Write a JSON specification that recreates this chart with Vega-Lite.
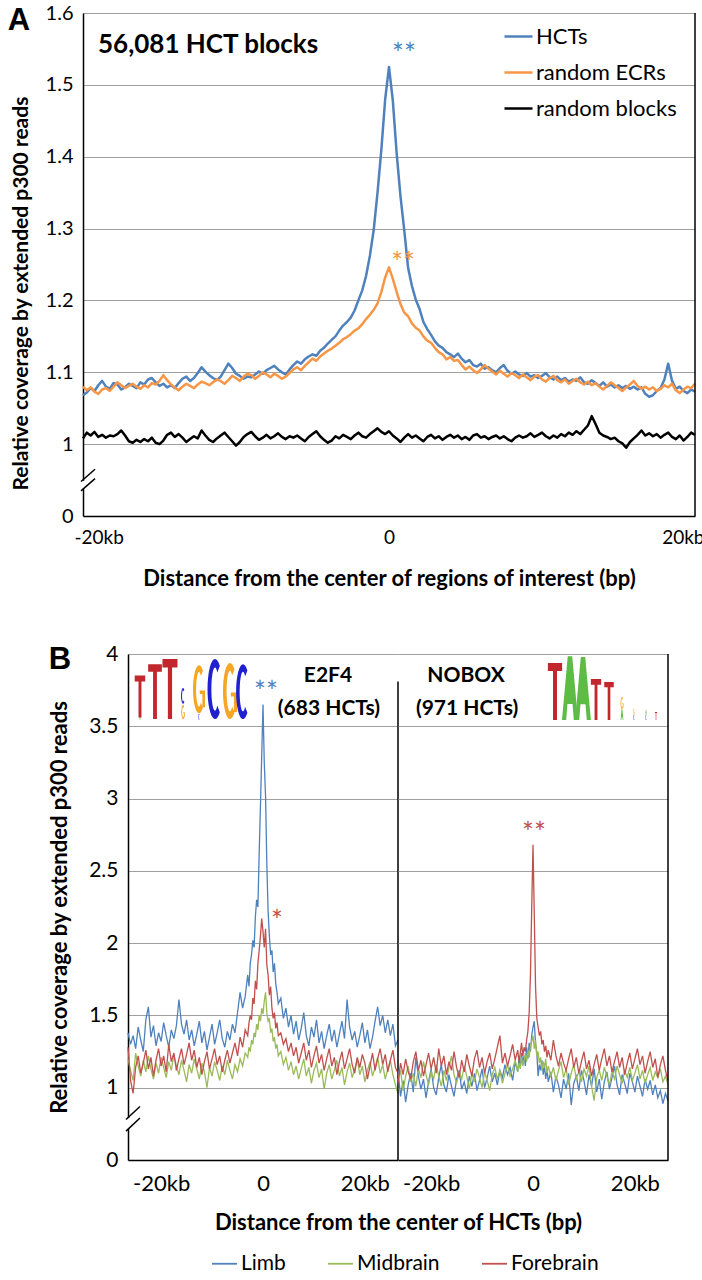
{
"$schema":"https://vega.github.io/schema/vega-lite/v6.json",
"padding":{"left":7,"top":3,"right":0,"bottom":0},
"config":{"font":"Lato","view":{"stroke":null},
 "axis":{"domainColor":"black","domainWidth":1.5,"gridColor":"#a0a0a0","gridWidth":1,"ticks":false,"labelColor":"black","titleColor":"black","labelFontSize":20,"titleFontWeight":"bold"},
 "legend":{"labelColor":"black"}},
"datasets":{
"a":[
{"s":"h","x":-20000,"y":1.068},{"s":"h","x":-19750,"y":1.072},{"s":"h","x":-19500,"y":1.078},{"s":"h","x":-19250,"y":1.074},{"s":"h","x":-19000,"y":1.082},{"s":"h","x":-18750,"y":1.088},{"s":"h","x":-18500,"y":1.080},{"s":"h","x":-18250,"y":1.077},{"s":"h","x":-18000,"y":1.085},{"s":"h","x":-17750,"y":1.083},
{"s":"h","x":-17500,"y":1.076},{"s":"h","x":-17250,"y":1.079},{"s":"h","x":-17000,"y":1.084},{"s":"h","x":-16750,"y":1.081},{"s":"h","x":-16500,"y":1.078},{"s":"h","x":-16250,"y":1.086},{"s":"h","x":-16000,"y":1.083},{"s":"h","x":-15750,"y":1.090},{"s":"h","x":-15500,"y":1.092},{"s":"h","x":-15250,"y":1.086},
{"s":"h","x":-15000,"y":1.081},{"s":"h","x":-14750,"y":1.084},{"s":"h","x":-14500,"y":1.079},{"s":"h","x":-14250,"y":1.082},{"s":"h","x":-14000,"y":1.078},{"s":"h","x":-13750,"y":1.085},{"s":"h","x":-13500,"y":1.091},{"s":"h","x":-13250,"y":1.094},{"s":"h","x":-13000,"y":1.088},{"s":"h","x":-12750,"y":1.092},
{"s":"h","x":-12500,"y":1.099},{"s":"h","x":-12250,"y":1.107},{"s":"h","x":-12000,"y":1.101},{"s":"h","x":-11750,"y":1.096},{"s":"h","x":-11500,"y":1.092},{"s":"h","x":-11250,"y":1.089},{"s":"h","x":-11000,"y":1.094},{"s":"h","x":-10750,"y":1.103},{"s":"h","x":-10500,"y":1.112},{"s":"h","x":-10250,"y":1.106},
{"s":"h","x":-10000,"y":1.098},{"s":"h","x":-9750,"y":1.095},{"s":"h","x":-9500,"y":1.091},{"s":"h","x":-9250,"y":1.094},{"s":"h","x":-9000,"y":1.093},{"s":"h","x":-8750,"y":1.097},{"s":"h","x":-8500,"y":1.101},{"s":"h","x":-8250,"y":1.098},{"s":"h","x":-8000,"y":1.103},{"s":"h","x":-7750,"y":1.106},
{"s":"h","x":-7500,"y":1.109},{"s":"h","x":-7250,"y":1.104},{"s":"h","x":-7000,"y":1.100},{"s":"h","x":-6750,"y":1.097},{"s":"h","x":-6500,"y":1.104},{"s":"h","x":-6250,"y":1.110},{"s":"h","x":-6000,"y":1.115},{"s":"h","x":-5750,"y":1.112},{"s":"h","x":-5500,"y":1.118},{"s":"h","x":-5250,"y":1.122},
{"s":"h","x":-5000,"y":1.125},{"s":"h","x":-4750,"y":1.123},{"s":"h","x":-4500,"y":1.130},{"s":"h","x":-4250,"y":1.134},{"s":"h","x":-4000,"y":1.140},{"s":"h","x":-3750,"y":1.145},{"s":"h","x":-3500,"y":1.150},{"s":"h","x":-3250,"y":1.158},{"s":"h","x":-3000,"y":1.165},{"s":"h","x":-2750,"y":1.170},
{"s":"h","x":-2500,"y":1.176},{"s":"h","x":-2250,"y":1.186},{"s":"h","x":-2000,"y":1.200},{"s":"h","x":-1750,"y":1.214},{"s":"h","x":-1500,"y":1.234},{"s":"h","x":-1250,"y":1.262},{"s":"h","x":-1000,"y":1.298},{"s":"h","x":-750,"y":1.350},{"s":"h","x":-500,"y":1.410},{"s":"h","x":-250,"y":1.480},
{"s":"h","x":0,"y":1.525},{"s":"h","x":250,"y":1.478},{"s":"h","x":500,"y":1.405},{"s":"h","x":750,"y":1.345},{"s":"h","x":1000,"y":1.297},{"s":"h","x":1250,"y":1.245},{"s":"h","x":1500,"y":1.220},{"s":"h","x":1750,"y":1.201},{"s":"h","x":2000,"y":1.188},{"s":"h","x":2250,"y":1.170},
{"s":"h","x":2500,"y":1.160},{"s":"h","x":2750,"y":1.152},{"s":"h","x":3000,"y":1.143},{"s":"h","x":3250,"y":1.137},{"s":"h","x":3500,"y":1.134},{"s":"h","x":3750,"y":1.128},{"s":"h","x":4000,"y":1.125},{"s":"h","x":4250,"y":1.121},{"s":"h","x":4500,"y":1.126},{"s":"h","x":4750,"y":1.119},
{"s":"h","x":5000,"y":1.114},{"s":"h","x":5250,"y":1.117},{"s":"h","x":5500,"y":1.110},{"s":"h","x":5750,"y":1.108},{"s":"h","x":6000,"y":1.112},{"s":"h","x":6250,"y":1.105},{"s":"h","x":6500,"y":1.107},{"s":"h","x":6750,"y":1.103},{"s":"h","x":7000,"y":1.100},{"s":"h","x":7250,"y":1.106},
{"s":"h","x":7500,"y":1.110},{"s":"h","x":7750,"y":1.102},{"s":"h","x":8000,"y":1.098},{"s":"h","x":8250,"y":1.101},{"s":"h","x":8500,"y":1.097},{"s":"h","x":8750,"y":1.095},{"s":"h","x":9000,"y":1.099},{"s":"h","x":9250,"y":1.094},{"s":"h","x":9500,"y":1.096},{"s":"h","x":9750,"y":1.092},
{"s":"h","x":10000,"y":1.095},{"s":"h","x":10250,"y":1.099},{"s":"h","x":10500,"y":1.093},{"s":"h","x":10750,"y":1.090},{"s":"h","x":11000,"y":1.094},{"s":"h","x":11250,"y":1.089},{"s":"h","x":11500,"y":1.092},{"s":"h","x":11750,"y":1.087},{"s":"h","x":12000,"y":1.090},{"s":"h","x":12250,"y":1.088},
{"s":"h","x":12500,"y":1.093},{"s":"h","x":12750,"y":1.086},{"s":"h","x":13000,"y":1.084},{"s":"h","x":13250,"y":1.089},{"s":"h","x":13500,"y":1.085},{"s":"h","x":13750,"y":1.081},{"s":"h","x":14000,"y":1.086},{"s":"h","x":14250,"y":1.080},{"s":"h","x":14500,"y":1.083},{"s":"h","x":14750,"y":1.079},
{"s":"h","x":15000,"y":1.082},{"s":"h","x":15250,"y":1.078},{"s":"h","x":15500,"y":1.081},{"s":"h","x":15750,"y":1.077},{"s":"h","x":16000,"y":1.080},{"s":"h","x":16250,"y":1.076},{"s":"h","x":16500,"y":1.079},{"s":"h","x":16750,"y":1.070},{"s":"h","x":17000,"y":1.066},{"s":"h","x":17250,"y":1.068},
{"s":"h","x":17500,"y":1.074},{"s":"h","x":17750,"y":1.078},{"s":"h","x":18000,"y":1.090},{"s":"h","x":18250,"y":1.112},{"s":"h","x":18500,"y":1.088},{"s":"h","x":18750,"y":1.077},{"s":"h","x":19000,"y":1.080},{"s":"h","x":19250,"y":1.074},{"s":"h","x":19500,"y":1.071},{"s":"h","x":19750,"y":1.076},
{"s":"h","x":20000,"y":1.073},
{"s":"e","x":-20000,"y":1.080},{"s":"e","x":-19750,"y":1.075},{"s":"e","x":-19500,"y":1.079},{"s":"e","x":-19250,"y":1.073},{"s":"e","x":-19000,"y":1.070},{"s":"e","x":-18750,"y":1.076},{"s":"e","x":-18500,"y":1.078},{"s":"e","x":-18250,"y":1.074},{"s":"e","x":-18000,"y":1.080},{"s":"e","x":-17750,"y":1.086},
{"s":"e","x":-17500,"y":1.082},{"s":"e","x":-17250,"y":1.078},{"s":"e","x":-17000,"y":1.081},{"s":"e","x":-16750,"y":1.084},{"s":"e","x":-16500,"y":1.080},{"s":"e","x":-16250,"y":1.077},{"s":"e","x":-16000,"y":1.082},{"s":"e","x":-15750,"y":1.079},{"s":"e","x":-15500,"y":1.085},{"s":"e","x":-15250,"y":1.083},
{"s":"e","x":-15000,"y":1.088},{"s":"e","x":-14750,"y":1.096},{"s":"e","x":-14500,"y":1.089},{"s":"e","x":-14250,"y":1.083},{"s":"e","x":-14000,"y":1.079},{"s":"e","x":-13750,"y":1.075},{"s":"e","x":-13500,"y":1.080},{"s":"e","x":-13250,"y":1.084},{"s":"e","x":-13000,"y":1.081},{"s":"e","x":-12750,"y":1.078},
{"s":"e","x":-12500,"y":1.083},{"s":"e","x":-12250,"y":1.087},{"s":"e","x":-12000,"y":1.085},{"s":"e","x":-11750,"y":1.082},{"s":"e","x":-11500,"y":1.086},{"s":"e","x":-11250,"y":1.090},{"s":"e","x":-11000,"y":1.088},{"s":"e","x":-10750,"y":1.084},{"s":"e","x":-10500,"y":1.089},{"s":"e","x":-10250,"y":1.095},
{"s":"e","x":-10000,"y":1.092},{"s":"e","x":-9750,"y":1.088},{"s":"e","x":-9500,"y":1.094},{"s":"e","x":-9250,"y":1.098},{"s":"e","x":-9000,"y":1.096},{"s":"e","x":-8750,"y":1.091},{"s":"e","x":-8500,"y":1.095},{"s":"e","x":-8250,"y":1.100},{"s":"e","x":-8000,"y":1.097},{"s":"e","x":-7750,"y":1.093},
{"s":"e","x":-7500,"y":1.098},{"s":"e","x":-7250,"y":1.095},{"s":"e","x":-7000,"y":1.091},{"s":"e","x":-6750,"y":1.094},{"s":"e","x":-6500,"y":1.099},{"s":"e","x":-6250,"y":1.104},{"s":"e","x":-6000,"y":1.107},{"s":"e","x":-5750,"y":1.103},{"s":"e","x":-5500,"y":1.109},{"s":"e","x":-5250,"y":1.114},
{"s":"e","x":-5000,"y":1.119},{"s":"e","x":-4750,"y":1.116},{"s":"e","x":-4500,"y":1.122},{"s":"e","x":-4250,"y":1.126},{"s":"e","x":-4000,"y":1.130},{"s":"e","x":-3750,"y":1.133},{"s":"e","x":-3500,"y":1.137},{"s":"e","x":-3250,"y":1.141},{"s":"e","x":-3000,"y":1.146},{"s":"e","x":-2750,"y":1.149},
{"s":"e","x":-2500,"y":1.153},{"s":"e","x":-2250,"y":1.158},{"s":"e","x":-2000,"y":1.161},{"s":"e","x":-1750,"y":1.167},{"s":"e","x":-1500,"y":1.174},{"s":"e","x":-1250,"y":1.180},{"s":"e","x":-1000,"y":1.187},{"s":"e","x":-750,"y":1.196},{"s":"e","x":-500,"y":1.212},{"s":"e","x":-250,"y":1.232},
{"s":"e","x":0,"y":1.246},{"s":"e","x":250,"y":1.230},{"s":"e","x":500,"y":1.212},{"s":"e","x":750,"y":1.195},{"s":"e","x":1000,"y":1.183},{"s":"e","x":1250,"y":1.178},{"s":"e","x":1500,"y":1.168},{"s":"e","x":1750,"y":1.162},{"s":"e","x":2000,"y":1.158},{"s":"e","x":2250,"y":1.150},
{"s":"e","x":2500,"y":1.144},{"s":"e","x":2750,"y":1.141},{"s":"e","x":3000,"y":1.134},{"s":"e","x":3250,"y":1.128},{"s":"e","x":3500,"y":1.125},{"s":"e","x":3750,"y":1.118},{"s":"e","x":4000,"y":1.121},{"s":"e","x":4250,"y":1.116},{"s":"e","x":4500,"y":1.117},{"s":"e","x":4750,"y":1.110},
{"s":"e","x":5000,"y":1.104},{"s":"e","x":5250,"y":1.108},{"s":"e","x":5500,"y":1.103},{"s":"e","x":5750,"y":1.099},{"s":"e","x":6000,"y":1.104},{"s":"e","x":6250,"y":1.110},{"s":"e","x":6500,"y":1.105},{"s":"e","x":6750,"y":1.101},{"s":"e","x":7000,"y":1.097},{"s":"e","x":7250,"y":1.102},
{"s":"e","x":7500,"y":1.098},{"s":"e","x":7750,"y":1.094},{"s":"e","x":8000,"y":1.099},{"s":"e","x":8250,"y":1.096},{"s":"e","x":8500,"y":1.092},{"s":"e","x":8750,"y":1.097},{"s":"e","x":9000,"y":1.093},{"s":"e","x":9250,"y":1.089},{"s":"e","x":9500,"y":1.094},{"s":"e","x":9750,"y":1.096},
{"s":"e","x":10000,"y":1.090},{"s":"e","x":10250,"y":1.087},{"s":"e","x":10500,"y":1.092},{"s":"e","x":10750,"y":1.095},{"s":"e","x":11000,"y":1.089},{"s":"e","x":11250,"y":1.086},{"s":"e","x":11500,"y":1.090},{"s":"e","x":11750,"y":1.084},{"s":"e","x":12000,"y":1.088},{"s":"e","x":12250,"y":1.091},
{"s":"e","x":12500,"y":1.086},{"s":"e","x":12750,"y":1.083},{"s":"e","x":13000,"y":1.087},{"s":"e","x":13250,"y":1.082},{"s":"e","x":13500,"y":1.085},{"s":"e","x":13750,"y":1.080},{"s":"e","x":14000,"y":1.076},{"s":"e","x":14250,"y":1.081},{"s":"e","x":14500,"y":1.086},{"s":"e","x":14750,"y":1.082},
{"s":"e","x":15000,"y":1.078},{"s":"e","x":15250,"y":1.074},{"s":"e","x":15500,"y":1.079},{"s":"e","x":15750,"y":1.083},{"s":"e","x":16000,"y":1.088},{"s":"e","x":16250,"y":1.081},{"s":"e","x":16500,"y":1.077},{"s":"e","x":16750,"y":1.080},{"s":"e","x":17000,"y":1.076},{"s":"e","x":17250,"y":1.079},
{"s":"e","x":17500,"y":1.074},{"s":"e","x":17750,"y":1.077},{"s":"e","x":18000,"y":1.082},{"s":"e","x":18250,"y":1.079},{"s":"e","x":18500,"y":1.084},{"s":"e","x":18750,"y":1.075},{"s":"e","x":19000,"y":1.071},{"s":"e","x":19250,"y":1.076},{"s":"e","x":19500,"y":1.080},{"s":"e","x":19750,"y":1.078},
{"s":"e","x":20000,"y":1.084},
{"s":"b","x":-20000,"y":1.008},{"s":"b","x":-19750,"y":1.016},{"s":"b","x":-19500,"y":1.012},{"s":"b","x":-19250,"y":1.017},{"s":"b","x":-19000,"y":1.010},{"s":"b","x":-18750,"y":1.013},{"s":"b","x":-18500,"y":1.009},{"s":"b","x":-18250,"y":1.012},{"s":"b","x":-18000,"y":1.011},{"s":"b","x":-17750,"y":1.014},
{"s":"b","x":-17500,"y":1.019},{"s":"b","x":-17250,"y":1.012},{"s":"b","x":-17000,"y":1.004},{"s":"b","x":-16750,"y":1.002},{"s":"b","x":-16500,"y":1.006},{"s":"b","x":-16250,"y":1.003},{"s":"b","x":-16000,"y":1.007},{"s":"b","x":-15750,"y":1.004},{"s":"b","x":-15500,"y":1.009},{"s":"b","x":-15250,"y":1.002},
{"s":"b","x":-15000,"y":1.000},{"s":"b","x":-14750,"y":1.005},{"s":"b","x":-14500,"y":1.013},{"s":"b","x":-14250,"y":1.016},{"s":"b","x":-14000,"y":1.010},{"s":"b","x":-13750,"y":1.014},{"s":"b","x":-13500,"y":1.009},{"s":"b","x":-13250,"y":1.003},{"s":"b","x":-13000,"y":1.007},{"s":"b","x":-12750,"y":1.011},
{"s":"b","x":-12500,"y":1.008},{"s":"b","x":-12250,"y":1.019},{"s":"b","x":-12000,"y":1.012},{"s":"b","x":-11750,"y":1.006},{"s":"b","x":-11500,"y":1.003},{"s":"b","x":-11250,"y":1.008},{"s":"b","x":-11000,"y":1.012},{"s":"b","x":-10750,"y":1.016},{"s":"b","x":-10500,"y":1.010},{"s":"b","x":-10250,"y":1.004},
{"s":"b","x":-10000,"y":0.998},{"s":"b","x":-9750,"y":1.003},{"s":"b","x":-9500,"y":1.010},{"s":"b","x":-9250,"y":1.014},{"s":"b","x":-9000,"y":1.017},{"s":"b","x":-8750,"y":1.011},{"s":"b","x":-8500,"y":1.006},{"s":"b","x":-8250,"y":1.009},{"s":"b","x":-8000,"y":1.013},{"s":"b","x":-7750,"y":1.008},
{"s":"b","x":-7500,"y":1.011},{"s":"b","x":-7250,"y":1.015},{"s":"b","x":-7000,"y":1.010},{"s":"b","x":-6750,"y":1.007},{"s":"b","x":-6500,"y":1.011},{"s":"b","x":-6250,"y":1.009},{"s":"b","x":-6000,"y":1.012},{"s":"b","x":-5750,"y":1.008},{"s":"b","x":-5500,"y":1.004},{"s":"b","x":-5250,"y":1.010},
{"s":"b","x":-5000,"y":1.014},{"s":"b","x":-4750,"y":1.018},{"s":"b","x":-4500,"y":1.011},{"s":"b","x":-4250,"y":1.006},{"s":"b","x":-4000,"y":1.002},{"s":"b","x":-3750,"y":1.005},{"s":"b","x":-3500,"y":1.011},{"s":"b","x":-3250,"y":1.008},{"s":"b","x":-3000,"y":1.013},{"s":"b","x":-2750,"y":1.010},
{"s":"b","x":-2500,"y":1.007},{"s":"b","x":-2250,"y":1.012},{"s":"b","x":-2000,"y":1.016},{"s":"b","x":-1750,"y":1.011},{"s":"b","x":-1500,"y":1.009},{"s":"b","x":-1250,"y":1.014},{"s":"b","x":-1000,"y":1.018},{"s":"b","x":-750,"y":1.022},{"s":"b","x":-500,"y":1.017},{"s":"b","x":-250,"y":1.014},
{"s":"b","x":0,"y":1.018},{"s":"b","x":250,"y":1.012},{"s":"b","x":500,"y":1.008},{"s":"b","x":750,"y":1.003},{"s":"b","x":1000,"y":1.009},{"s":"b","x":1250,"y":1.014},{"s":"b","x":1500,"y":1.009},{"s":"b","x":1750,"y":1.012},{"s":"b","x":2000,"y":1.008},{"s":"b","x":2250,"y":1.004},
{"s":"b","x":2500,"y":1.010},{"s":"b","x":2750,"y":1.013},{"s":"b","x":3000,"y":1.008},{"s":"b","x":3250,"y":1.011},{"s":"b","x":3500,"y":1.006},{"s":"b","x":3750,"y":1.010},{"s":"b","x":4000,"y":1.013},{"s":"b","x":4250,"y":1.009},{"s":"b","x":4500,"y":1.012},{"s":"b","x":4750,"y":1.007},
{"s":"b","x":5000,"y":1.010},{"s":"b","x":5250,"y":1.006},{"s":"b","x":5500,"y":1.012},{"s":"b","x":5750,"y":1.014},{"s":"b","x":6000,"y":1.009},{"s":"b","x":6250,"y":1.011},{"s":"b","x":6500,"y":1.007},{"s":"b","x":6750,"y":1.010},{"s":"b","x":7000,"y":1.012},{"s":"b","x":7250,"y":1.008},
{"s":"b","x":7500,"y":1.011},{"s":"b","x":7750,"y":1.007},{"s":"b","x":8000,"y":1.004},{"s":"b","x":8250,"y":1.009},{"s":"b","x":8500,"y":1.012},{"s":"b","x":8750,"y":1.009},{"s":"b","x":9000,"y":1.011},{"s":"b","x":9250,"y":1.015},{"s":"b","x":9500,"y":1.010},{"s":"b","x":9750,"y":1.013},
{"s":"b","x":10000,"y":1.016},{"s":"b","x":10250,"y":1.011},{"s":"b","x":10500,"y":1.008},{"s":"b","x":10750,"y":1.012},{"s":"b","x":11000,"y":1.009},{"s":"b","x":11250,"y":1.014},{"s":"b","x":11500,"y":1.011},{"s":"b","x":11750,"y":1.016},{"s":"b","x":12000,"y":1.013},{"s":"b","x":12250,"y":1.018},
{"s":"b","x":12500,"y":1.014},{"s":"b","x":12750,"y":1.020},{"s":"b","x":13000,"y":1.026},{"s":"b","x":13250,"y":1.039},{"s":"b","x":13500,"y":1.028},{"s":"b","x":13750,"y":1.016},{"s":"b","x":14000,"y":1.012},{"s":"b","x":14250,"y":1.010},{"s":"b","x":14500,"y":1.007},{"s":"b","x":14750,"y":1.009},
{"s":"b","x":15000,"y":1.004},{"s":"b","x":15250,"y":1.001},{"s":"b","x":15500,"y":0.995},{"s":"b","x":15750,"y":1.003},{"s":"b","x":16000,"y":1.008},{"s":"b","x":16250,"y":1.013},{"s":"b","x":16500,"y":1.019},{"s":"b","x":16750,"y":1.012},{"s":"b","x":17000,"y":1.015},{"s":"b","x":17250,"y":1.011},
{"s":"b","x":17500,"y":1.014},{"s":"b","x":17750,"y":1.009},{"s":"b","x":18000,"y":1.013},{"s":"b","x":18250,"y":1.016},{"s":"b","x":18500,"y":1.010},{"s":"b","x":18750,"y":1.007},{"s":"b","x":19000,"y":1.012},{"s":"b","x":19250,"y":1.005},{"s":"b","x":19500,"y":1.010},{"s":"b","x":19750,"y":1.016},
{"s":"b","x":20000,"y":1.013}
],
"e":[
{"s":"L","x":-26500,"y":1.38},{"s":"L","x":-26000,"y":1.30},{"s":"L","x":-25500,"y":1.36},{"s":"L","x":-25000,"y":1.27},{"s":"L","x":-24500,"y":1.42},{"s":"L","x":-24000,"y":1.33},{"s":"L","x":-23500,"y":1.25},{"s":"L","x":-23000,"y":1.47},{"s":"L","x":-22500,"y":1.56},{"s":"L","x":-22000,"y":1.35},
{"s":"L","x":-21500,"y":1.43},{"s":"L","x":-21000,"y":1.29},{"s":"L","x":-20500,"y":1.38},{"s":"L","x":-20000,"y":1.32},{"s":"L","x":-19500,"y":1.45},{"s":"L","x":-19000,"y":1.36},{"s":"L","x":-18500,"y":1.28},{"s":"L","x":-18000,"y":1.40},{"s":"L","x":-17500,"y":1.34},{"s":"L","x":-17000,"y":1.43},
{"s":"L","x":-16500,"y":1.61},{"s":"L","x":-16000,"y":1.44},{"s":"L","x":-15500,"y":1.37},{"s":"L","x":-15000,"y":1.47},{"s":"L","x":-14500,"y":1.33},{"s":"L","x":-14000,"y":1.40},{"s":"L","x":-13500,"y":1.29},{"s":"L","x":-13000,"y":1.37},{"s":"L","x":-12500,"y":1.46},{"s":"L","x":-12000,"y":1.31},
{"s":"L","x":-11500,"y":1.39},{"s":"L","x":-11000,"y":1.26},{"s":"L","x":-10500,"y":1.35},{"s":"L","x":-10000,"y":1.44},{"s":"L","x":-9500,"y":1.30},{"s":"L","x":-9000,"y":1.38},{"s":"L","x":-8500,"y":1.47},{"s":"L","x":-8000,"y":1.34},{"s":"L","x":-7500,"y":1.28},{"s":"L","x":-7000,"y":1.39},
{"s":"L","x":-6500,"y":1.33},{"s":"L","x":-6000,"y":1.44},{"s":"L","x":-5500,"y":1.38},{"s":"L","x":-5000,"y":1.52},{"s":"L","x":-4500,"y":1.66},{"s":"L","x":-4000,"y":1.55},{"s":"L","x":-3500,"y":1.63},
{"s":"L","x":-3000,"y":1.78},{"s":"L","x":-2750,"y":1.70},{"s":"L","x":-2500,"y":1.86},{"s":"L","x":-2250,"y":1.92},{"s":"L","x":-2000,"y":2.02},{"s":"L","x":-1750,"y":1.97},{"s":"L","x":-1500,"y":2.18},{"s":"L","x":-1250,"y":2.30},{"s":"L","x":-1000,"y":2.25},{"s":"L","x":-750,"y":2.62},
{"s":"L","x":-500,"y":2.95},{"s":"L","x":-250,"y":3.30},{"s":"L","x":0,"y":3.65},{"s":"L","x":250,"y":3.25},{"s":"L","x":500,"y":3.02},{"s":"L","x":750,"y":2.55},{"s":"L","x":1000,"y":2.22},{"s":"L","x":1250,"y":2.05},{"s":"L","x":1500,"y":1.92},{"s":"L","x":1750,"y":1.95},
{"s":"L","x":2000,"y":1.80},{"s":"L","x":2250,"y":1.86},{"s":"L","x":2500,"y":1.72},{"s":"L","x":2750,"y":1.66},{"s":"L","x":3000,"y":1.58},
{"s":"L","x":3500,"y":1.62},{"s":"L","x":4000,"y":1.48},{"s":"L","x":4500,"y":1.55},{"s":"L","x":5000,"y":1.42},{"s":"L","x":5500,"y":1.50},{"s":"L","x":6000,"y":1.37},{"s":"L","x":6500,"y":1.46},{"s":"L","x":7000,"y":1.33},{"s":"L","x":7500,"y":1.41},{"s":"L","x":8000,"y":1.52},
{"s":"L","x":8500,"y":1.36},{"s":"L","x":9000,"y":1.29},{"s":"L","x":9500,"y":1.42},{"s":"L","x":10000,"y":1.35},{"s":"L","x":10500,"y":1.47},{"s":"L","x":11000,"y":1.31},{"s":"L","x":11500,"y":1.39},{"s":"L","x":12000,"y":1.27},{"s":"L","x":12500,"y":1.36},{"s":"L","x":13000,"y":1.44},
{"s":"L","x":13500,"y":1.32},{"s":"L","x":14000,"y":1.40},{"s":"L","x":14500,"y":1.28},{"s":"L","x":15000,"y":1.37},{"s":"L","x":15500,"y":1.46},{"s":"L","x":16000,"y":1.34},{"s":"L","x":16500,"y":1.61},{"s":"L","x":17000,"y":1.42},{"s":"L","x":17500,"y":1.33},{"s":"L","x":18000,"y":1.39},
{"s":"L","x":18500,"y":1.28},{"s":"L","x":19000,"y":1.36},{"s":"L","x":19500,"y":1.45},{"s":"L","x":20000,"y":1.31},{"s":"L","x":20500,"y":1.40},{"s":"L","x":21000,"y":1.27},{"s":"L","x":21500,"y":1.35},{"s":"L","x":22000,"y":1.46},{"s":"L","x":22500,"y":1.56},{"s":"L","x":23000,"y":1.43},
{"s":"L","x":23500,"y":1.50},{"s":"L","x":24000,"y":1.38},{"s":"L","x":24500,"y":1.47},{"s":"L","x":25000,"y":1.36},{"s":"L","x":25500,"y":1.44},{"s":"L","x":26000,"y":1.29},{"s":"L","x":26500,"y":1.33},
{"s":"M","x":-26500,"y":1.20},{"s":"M","x":-26000,"y":1.12},{"s":"M","x":-25500,"y":1.05},{"s":"M","x":-25000,"y":1.24},{"s":"M","x":-24500,"y":1.15},{"s":"M","x":-24000,"y":1.08},{"s":"M","x":-23500,"y":1.19},{"s":"M","x":-23000,"y":1.11},{"s":"M","x":-22500,"y":1.22},{"s":"M","x":-22000,"y":1.13},
{"s":"M","x":-21500,"y":1.06},{"s":"M","x":-21000,"y":1.17},{"s":"M","x":-20500,"y":1.10},{"s":"M","x":-20000,"y":1.21},{"s":"M","x":-19500,"y":1.14},{"s":"M","x":-19000,"y":1.07},{"s":"M","x":-18500,"y":1.18},{"s":"M","x":-18000,"y":1.12},{"s":"M","x":-17500,"y":1.23},{"s":"M","x":-17000,"y":1.15},
{"s":"M","x":-16500,"y":1.09},{"s":"M","x":-16000,"y":1.19},{"s":"M","x":-15500,"y":1.12},{"s":"M","x":-15000,"y":1.04},{"s":"M","x":-14500,"y":1.16},{"s":"M","x":-14000,"y":1.10},{"s":"M","x":-13500,"y":1.20},{"s":"M","x":-13000,"y":1.13},{"s":"M","x":-12500,"y":1.06},{"s":"M","x":-12000,"y":1.17},
{"s":"M","x":-11500,"y":1.11},{"s":"M","x":-11000,"y":1.00},{"s":"M","x":-10500,"y":1.14},{"s":"M","x":-10000,"y":1.08},{"s":"M","x":-9500,"y":1.18},{"s":"M","x":-9000,"y":1.12},{"s":"M","x":-8500,"y":1.05},{"s":"M","x":-8000,"y":1.15},{"s":"M","x":-7500,"y":1.09},{"s":"M","x":-7000,"y":1.19},
{"s":"M","x":-6500,"y":1.12},{"s":"M","x":-6000,"y":1.06},{"s":"M","x":-5500,"y":1.16},{"s":"M","x":-5000,"y":1.11},{"s":"M","x":-4500,"y":1.20},{"s":"M","x":-4000,"y":1.15},{"s":"M","x":-3500,"y":1.24},
{"s":"M","x":-3000,"y":1.21},{"s":"M","x":-2750,"y":1.28},{"s":"M","x":-2500,"y":1.25},{"s":"M","x":-2250,"y":1.33},{"s":"M","x":-2000,"y":1.30},{"s":"M","x":-1750,"y":1.38},{"s":"M","x":-1500,"y":1.35},{"s":"M","x":-1250,"y":1.44},{"s":"M","x":-1000,"y":1.40},{"s":"M","x":-750,"y":1.50},
{"s":"M","x":-500,"y":1.46},{"s":"M","x":-250,"y":1.55},{"s":"M","x":0,"y":1.51},{"s":"M","x":250,"y":1.60},{"s":"M","x":500,"y":1.66},{"s":"M","x":750,"y":1.52},{"s":"M","x":1000,"y":1.46},{"s":"M","x":1250,"y":1.48},{"s":"M","x":1500,"y":1.38},{"s":"M","x":1750,"y":1.41},
{"s":"M","x":2000,"y":1.32},{"s":"M","x":2250,"y":1.35},{"s":"M","x":2500,"y":1.27},{"s":"M","x":2750,"y":1.30},{"s":"M","x":3000,"y":1.22},
{"s":"M","x":3500,"y":1.25},{"s":"M","x":4000,"y":1.16},{"s":"M","x":4500,"y":1.21},{"s":"M","x":5000,"y":1.12},{"s":"M","x":5500,"y":1.18},{"s":"M","x":6000,"y":1.09},{"s":"M","x":6500,"y":1.15},{"s":"M","x":7000,"y":1.06},{"s":"M","x":7500,"y":1.13},{"s":"M","x":8000,"y":1.20},
{"s":"M","x":8500,"y":1.08},{"s":"M","x":9000,"y":1.14},{"s":"M","x":9500,"y":1.03},{"s":"M","x":10000,"y":1.12},{"s":"M","x":10500,"y":1.17},{"s":"M","x":11000,"y":1.07},{"s":"M","x":11500,"y":1.13},{"s":"M","x":12000,"y":0.99},{"s":"M","x":12500,"y":1.10},{"s":"M","x":13000,"y":1.16},
{"s":"M","x":13500,"y":1.06},{"s":"M","x":14000,"y":1.12},{"s":"M","x":14500,"y":1.19},{"s":"M","x":15000,"y":1.08},{"s":"M","x":15500,"y":1.14},{"s":"M","x":16000,"y":1.02},{"s":"M","x":16500,"y":1.11},{"s":"M","x":17000,"y":1.17},{"s":"M","x":17500,"y":1.07},{"s":"M","x":18000,"y":1.13},
{"s":"M","x":18500,"y":1.20},{"s":"M","x":19000,"y":1.09},{"s":"M","x":19500,"y":1.15},{"s":"M","x":20000,"y":1.04},{"s":"M","x":20500,"y":1.12},{"s":"M","x":21000,"y":1.18},{"s":"M","x":21500,"y":1.08},{"s":"M","x":22000,"y":1.14},{"s":"M","x":22500,"y":1.21},{"s":"M","x":23000,"y":1.10},
{"s":"M","x":23500,"y":1.16},{"s":"M","x":24000,"y":1.06},{"s":"M","x":24500,"y":1.13},{"s":"M","x":25000,"y":1.19},{"s":"M","x":25500,"y":1.09},{"s":"M","x":26000,"y":1.02},{"s":"M","x":26500,"y":0.96},
{"s":"F","x":-26500,"y":1.28},{"s":"F","x":-26000,"y":1.05},{"s":"F","x":-25500,"y":0.96},{"s":"F","x":-25000,"y":1.14},{"s":"F","x":-24500,"y":1.22},{"s":"F","x":-24000,"y":1.10},{"s":"F","x":-23500,"y":1.17},{"s":"F","x":-23000,"y":1.26},{"s":"F","x":-22500,"y":1.13},{"s":"F","x":-22000,"y":1.21},
{"s":"F","x":-21500,"y":1.08},{"s":"F","x":-21000,"y":1.19},{"s":"F","x":-20500,"y":1.27},{"s":"F","x":-20000,"y":1.15},{"s":"F","x":-19500,"y":1.22},{"s":"F","x":-19000,"y":1.11},{"s":"F","x":-18500,"y":1.30},{"s":"F","x":-18000,"y":1.18},{"s":"F","x":-17500,"y":1.24},{"s":"F","x":-17000,"y":1.12},
{"s":"F","x":-16500,"y":1.20},{"s":"F","x":-16000,"y":1.27},{"s":"F","x":-15500,"y":1.16},{"s":"F","x":-15000,"y":1.23},{"s":"F","x":-14500,"y":1.31},{"s":"F","x":-14000,"y":1.19},{"s":"F","x":-13500,"y":1.26},{"s":"F","x":-13000,"y":1.14},{"s":"F","x":-12500,"y":1.21},{"s":"F","x":-12000,"y":1.09},
{"s":"F","x":-11500,"y":1.18},{"s":"F","x":-11000,"y":1.25},{"s":"F","x":-10500,"y":1.13},{"s":"F","x":-10000,"y":1.20},{"s":"F","x":-9500,"y":1.27},{"s":"F","x":-9000,"y":1.16},{"s":"F","x":-8500,"y":1.22},{"s":"F","x":-8000,"y":1.11},{"s":"F","x":-7500,"y":1.19},{"s":"F","x":-7000,"y":1.26},
{"s":"F","x":-6500,"y":1.17},{"s":"F","x":-6000,"y":1.24},{"s":"F","x":-5500,"y":1.31},{"s":"F","x":-5000,"y":1.22},{"s":"F","x":-4500,"y":1.35},{"s":"F","x":-4000,"y":1.28},{"s":"F","x":-3500,"y":1.40},
{"s":"F","x":-3000,"y":1.36},{"s":"F","x":-2750,"y":1.45},{"s":"F","x":-2500,"y":1.50},{"s":"F","x":-2250,"y":1.47},{"s":"F","x":-2000,"y":1.62},{"s":"F","x":-1750,"y":1.58},{"s":"F","x":-1500,"y":1.74},{"s":"F","x":-1250,"y":1.68},{"s":"F","x":-1000,"y":1.86},{"s":"F","x":-750,"y":1.95},
{"s":"F","x":-500,"y":2.05},{"s":"F","x":-250,"y":2.17},{"s":"F","x":0,"y":2.08},{"s":"F","x":250,"y":1.97},{"s":"F","x":500,"y":2.10},{"s":"F","x":750,"y":1.85},{"s":"F","x":1000,"y":1.78},{"s":"F","x":1250,"y":1.64},{"s":"F","x":1500,"y":1.70},{"s":"F","x":1750,"y":1.55},
{"s":"F","x":2000,"y":1.48},{"s":"F","x":2250,"y":1.52},{"s":"F","x":2500,"y":1.41},{"s":"F","x":2750,"y":1.45},{"s":"F","x":3000,"y":1.36},
{"s":"F","x":3500,"y":1.38},{"s":"F","x":4000,"y":1.30},{"s":"F","x":4500,"y":1.34},{"s":"F","x":5000,"y":1.25},{"s":"F","x":5500,"y":1.31},{"s":"F","x":6000,"y":1.22},{"s":"F","x":6500,"y":1.28},{"s":"F","x":7000,"y":1.17},{"s":"F","x":7500,"y":1.24},{"s":"F","x":8000,"y":1.31},
{"s":"F","x":8500,"y":1.19},{"s":"F","x":9000,"y":1.26},{"s":"F","x":9500,"y":1.14},{"s":"F","x":10000,"y":1.22},{"s":"F","x":10500,"y":1.29},{"s":"F","x":11000,"y":1.17},{"s":"F","x":11500,"y":1.23},{"s":"F","x":12000,"y":1.12},{"s":"F","x":12500,"y":1.20},{"s":"F","x":13000,"y":1.27},
{"s":"F","x":13500,"y":1.15},{"s":"F","x":14000,"y":1.21},{"s":"F","x":14500,"y":1.09},{"s":"F","x":15000,"y":1.18},{"s":"F","x":15500,"y":1.25},{"s":"F","x":16000,"y":1.13},{"s":"F","x":16500,"y":1.20},{"s":"F","x":17000,"y":1.27},{"s":"F","x":17500,"y":1.16},{"s":"F","x":18000,"y":1.10},
{"s":"F","x":18500,"y":1.21},{"s":"F","x":19000,"y":1.14},{"s":"F","x":19500,"y":1.23},{"s":"F","x":20000,"y":1.17},{"s":"F","x":20500,"y":1.06},{"s":"F","x":21000,"y":1.15},{"s":"F","x":21500,"y":1.24},{"s":"F","x":22000,"y":1.12},{"s":"F","x":22500,"y":1.20},{"s":"F","x":23000,"y":1.27},
{"s":"F","x":23500,"y":1.16},{"s":"F","x":24000,"y":1.23},{"s":"F","x":24500,"y":1.11},{"s":"F","x":25000,"y":1.19},{"s":"F","x":25500,"y":1.26},{"s":"F","x":26000,"y":1.14},{"s":"F","x":26500,"y":1.10}
],
"n":[
{"s":"L","x":-26500,"y":1.12},{"s":"L","x":-26000,"y":0.94},{"s":"L","x":-25500,"y":1.05},{"s":"L","x":-25000,"y":0.90},{"s":"L","x":-24500,"y":1.02},{"s":"L","x":-24000,"y":1.10},{"s":"L","x":-23500,"y":0.97},{"s":"L","x":-23000,"y":1.21},{"s":"L","x":-22500,"y":1.08},{"s":"L","x":-22000,"y":0.99},
{"s":"L","x":-21500,"y":1.06},{"s":"L","x":-21000,"y":0.93},{"s":"L","x":-20500,"y":1.04},{"s":"L","x":-20000,"y":1.13},{"s":"L","x":-19500,"y":1.00},{"s":"L","x":-19000,"y":0.95},{"s":"L","x":-18500,"y":1.07},{"s":"L","x":-18000,"y":1.16},{"s":"L","x":-17500,"y":1.02},{"s":"L","x":-17000,"y":0.97},
{"s":"L","x":-16500,"y":1.09},{"s":"L","x":-16000,"y":1.01},{"s":"L","x":-15500,"y":0.94},{"s":"L","x":-15000,"y":1.06},{"s":"L","x":-14500,"y":1.12},{"s":"L","x":-14000,"y":0.99},{"s":"L","x":-13500,"y":1.04},{"s":"L","x":-13000,"y":0.96},{"s":"L","x":-12500,"y":1.08},{"s":"L","x":-12000,"y":1.01},
{"s":"L","x":-11500,"y":1.10},{"s":"L","x":-11000,"y":0.98},{"s":"L","x":-10500,"y":1.05},{"s":"L","x":-10000,"y":1.13},{"s":"L","x":-9500,"y":1.00},{"s":"L","x":-9000,"y":1.07},{"s":"L","x":-8500,"y":1.15},{"s":"L","x":-8000,"y":1.04},{"s":"L","x":-7500,"y":1.10},{"s":"L","x":-7000,"y":1.02},
{"s":"L","x":-6500,"y":1.12},{"s":"L","x":-6000,"y":1.07},{"s":"L","x":-5500,"y":1.16},{"s":"L","x":-5000,"y":1.09},{"s":"L","x":-4500,"y":1.14},{"s":"L","x":-4000,"y":1.05},{"s":"L","x":-3500,"y":1.18},
{"s":"L","x":-3000,"y":1.11},{"s":"L","x":-2750,"y":1.20},{"s":"L","x":-2500,"y":1.14},{"s":"L","x":-2250,"y":1.24},{"s":"L","x":-2000,"y":1.17},{"s":"L","x":-1750,"y":1.22},{"s":"L","x":-1500,"y":1.15},{"s":"L","x":-1250,"y":1.28},{"s":"L","x":-1000,"y":1.20},{"s":"L","x":-750,"y":1.31},
{"s":"L","x":-500,"y":1.25},{"s":"L","x":-250,"y":1.36},{"s":"L","x":0,"y":1.42},{"s":"L","x":250,"y":1.46},{"s":"L","x":500,"y":1.30},{"s":"L","x":750,"y":1.24},{"s":"L","x":1000,"y":1.08},{"s":"L","x":1250,"y":1.16},{"s":"L","x":1500,"y":1.12},{"s":"L","x":1750,"y":1.19},
{"s":"L","x":2000,"y":1.09},{"s":"L","x":2250,"y":1.15},{"s":"L","x":2500,"y":1.06},{"s":"L","x":2750,"y":1.13},{"s":"L","x":3000,"y":1.04},
{"s":"L","x":3500,"y":1.11},{"s":"L","x":4000,"y":0.97},{"s":"L","x":4500,"y":1.08},{"s":"L","x":5000,"y":1.02},{"s":"L","x":5500,"y":0.93},{"s":"L","x":6000,"y":1.06},{"s":"L","x":6500,"y":0.99},{"s":"L","x":7000,"y":1.10},{"s":"L","x":7500,"y":0.88},{"s":"L","x":8000,"y":1.03},
{"s":"L","x":8500,"y":1.08},{"s":"L","x":9000,"y":0.98},{"s":"L","x":9500,"y":1.12},{"s":"L","x":10000,"y":1.05},{"s":"L","x":10500,"y":0.95},{"s":"L","x":11000,"y":1.09},{"s":"L","x":11500,"y":1.01},{"s":"L","x":12000,"y":1.13},{"s":"L","x":12500,"y":0.97},{"s":"L","x":13000,"y":1.06},
{"s":"L","x":13500,"y":0.92},{"s":"L","x":14000,"y":1.04},{"s":"L","x":14500,"y":1.11},{"s":"L","x":15000,"y":0.99},{"s":"L","x":15500,"y":1.07},{"s":"L","x":16000,"y":1.15},{"s":"L","x":16500,"y":1.02},{"s":"L","x":17000,"y":0.95},{"s":"L","x":17500,"y":1.09},{"s":"L","x":18000,"y":1.03},
{"s":"L","x":18500,"y":0.96},{"s":"L","x":19000,"y":1.10},{"s":"L","x":19500,"y":1.04},{"s":"L","x":20000,"y":0.97},{"s":"L","x":20500,"y":1.08},{"s":"L","x":21000,"y":1.01},{"s":"L","x":21500,"y":0.94},{"s":"L","x":22000,"y":1.06},{"s":"L","x":22500,"y":0.99},{"s":"L","x":23000,"y":1.05},
{"s":"L","x":23500,"y":0.95},{"s":"L","x":24000,"y":1.02},{"s":"L","x":24500,"y":0.93},{"s":"L","x":25000,"y":0.98},{"s":"L","x":25500,"y":0.89},{"s":"L","x":26000,"y":0.96},{"s":"L","x":26500,"y":0.91},
{"s":"M","x":-26500,"y":1.05},{"s":"M","x":-26000,"y":1.12},{"s":"M","x":-25500,"y":0.98},{"s":"M","x":-25000,"y":1.08},{"s":"M","x":-24500,"y":1.15},{"s":"M","x":-24000,"y":1.04},{"s":"M","x":-23500,"y":1.10},{"s":"M","x":-23000,"y":1.01},{"s":"M","x":-22500,"y":1.13},{"s":"M","x":-22000,"y":1.07},
{"s":"M","x":-21500,"y":1.18},{"s":"M","x":-21000,"y":1.09},{"s":"M","x":-20500,"y":1.02},{"s":"M","x":-20000,"y":1.11},{"s":"M","x":-19500,"y":1.06},{"s":"M","x":-19000,"y":1.16},{"s":"M","x":-18500,"y":1.08},{"s":"M","x":-18000,"y":1.01},{"s":"M","x":-17500,"y":1.12},{"s":"M","x":-17000,"y":1.05},
{"s":"M","x":-16500,"y":1.14},{"s":"M","x":-16000,"y":1.22},{"s":"M","x":-15500,"y":1.09},{"s":"M","x":-15000,"y":1.03},{"s":"M","x":-14500,"y":1.11},{"s":"M","x":-14000,"y":1.06},{"s":"M","x":-13500,"y":1.15},{"s":"M","x":-13000,"y":1.08},{"s":"M","x":-12500,"y":0.99},{"s":"M","x":-12000,"y":1.10},
{"s":"M","x":-11500,"y":1.04},{"s":"M","x":-11000,"y":1.13},{"s":"M","x":-10500,"y":1.07},{"s":"M","x":-10000,"y":1.00},{"s":"M","x":-9500,"y":1.11},{"s":"M","x":-9000,"y":1.05},{"s":"M","x":-8500,"y":0.98},{"s":"M","x":-8000,"y":1.09},{"s":"M","x":-7500,"y":1.14},{"s":"M","x":-7000,"y":1.06},
{"s":"M","x":-6500,"y":1.12},{"s":"M","x":-6000,"y":1.03},{"s":"M","x":-5500,"y":1.10},{"s":"M","x":-5000,"y":1.16},{"s":"M","x":-4500,"y":1.08},{"s":"M","x":-4000,"y":1.13},{"s":"M","x":-3500,"y":1.19},
{"s":"M","x":-3000,"y":1.11},{"s":"M","x":-2750,"y":1.17},{"s":"M","x":-2500,"y":1.13},{"s":"M","x":-2250,"y":1.21},{"s":"M","x":-2000,"y":1.15},{"s":"M","x":-1750,"y":1.19},{"s":"M","x":-1500,"y":1.24},{"s":"M","x":-1250,"y":1.18},{"s":"M","x":-1000,"y":1.26},{"s":"M","x":-750,"y":1.21},
{"s":"M","x":-500,"y":1.29},{"s":"M","x":-250,"y":1.32},{"s":"M","x":0,"y":1.36},{"s":"M","x":250,"y":1.27},{"s":"M","x":500,"y":1.33},{"s":"M","x":750,"y":1.22},{"s":"M","x":1000,"y":1.25},{"s":"M","x":1250,"y":1.17},{"s":"M","x":1500,"y":1.21},{"s":"M","x":1750,"y":1.12},
{"s":"M","x":2000,"y":1.18},{"s":"M","x":2250,"y":1.14},{"s":"M","x":2500,"y":1.20},{"s":"M","x":2750,"y":1.10},{"s":"M","x":3000,"y":1.15},
{"s":"M","x":3500,"y":1.08},{"s":"M","x":4000,"y":1.14},{"s":"M","x":4500,"y":1.05},{"s":"M","x":5000,"y":1.12},{"s":"M","x":5500,"y":1.18},{"s":"M","x":6000,"y":1.07},{"s":"M","x":6500,"y":1.13},{"s":"M","x":7000,"y":1.02},{"s":"M","x":7500,"y":1.10},{"s":"M","x":8000,"y":1.16},
{"s":"M","x":8500,"y":1.06},{"s":"M","x":9000,"y":1.11},{"s":"M","x":9500,"y":1.04},{"s":"M","x":10000,"y":1.13},{"s":"M","x":10500,"y":1.08},{"s":"M","x":11000,"y":1.15},{"s":"M","x":11500,"y":1.01},{"s":"M","x":12000,"y":0.91},{"s":"M","x":12500,"y":1.07},{"s":"M","x":13000,"y":1.12},
{"s":"M","x":13500,"y":1.05},{"s":"M","x":14000,"y":1.14},{"s":"M","x":14500,"y":1.08},{"s":"M","x":15000,"y":1.02},{"s":"M","x":15500,"y":1.11},{"s":"M","x":16000,"y":1.06},{"s":"M","x":16500,"y":1.15},{"s":"M","x":17000,"y":1.09},{"s":"M","x":17500,"y":1.03},{"s":"M","x":18000,"y":1.12},
{"s":"M","x":18500,"y":1.07},{"s":"M","x":19000,"y":1.14},{"s":"M","x":19500,"y":1.05},{"s":"M","x":20000,"y":1.10},{"s":"M","x":20500,"y":1.16},{"s":"M","x":21000,"y":1.06},{"s":"M","x":21500,"y":1.12},{"s":"M","x":22000,"y":1.03},{"s":"M","x":22500,"y":1.09},{"s":"M","x":23000,"y":1.14},
{"s":"M","x":23500,"y":1.05},{"s":"M","x":24000,"y":1.11},{"s":"M","x":24500,"y":1.07},{"s":"M","x":25000,"y":1.13},{"s":"M","x":25500,"y":1.04},{"s":"M","x":26000,"y":1.08},{"s":"M","x":26500,"y":1.02},
{"s":"F","x":-26500,"y":1.03},{"s":"F","x":-26000,"y":1.17},{"s":"F","x":-25500,"y":1.09},{"s":"F","x":-25000,"y":1.20},{"s":"F","x":-24500,"y":1.11},{"s":"F","x":-24000,"y":1.06},{"s":"F","x":-23500,"y":1.18},{"s":"F","x":-23000,"y":1.25},{"s":"F","x":-22500,"y":1.12},{"s":"F","x":-22000,"y":1.19},
{"s":"F","x":-21500,"y":1.08},{"s":"F","x":-21000,"y":1.16},{"s":"F","x":-20500,"y":1.24},{"s":"F","x":-20000,"y":1.13},{"s":"F","x":-19500,"y":1.21},{"s":"F","x":-19000,"y":1.10},{"s":"F","x":-18500,"y":1.27},{"s":"F","x":-18000,"y":1.15},{"s":"F","x":-17500,"y":1.22},{"s":"F","x":-17000,"y":1.09},
{"s":"F","x":-16500,"y":1.18},{"s":"F","x":-16000,"y":1.12},{"s":"F","x":-15500,"y":1.25},{"s":"F","x":-15000,"y":1.14},{"s":"F","x":-14500,"y":1.07},{"s":"F","x":-14000,"y":1.19},{"s":"F","x":-13500,"y":1.11},{"s":"F","x":-13000,"y":1.23},{"s":"F","x":-12500,"y":1.15},{"s":"F","x":-12000,"y":1.08},
{"s":"F","x":-11500,"y":1.20},{"s":"F","x":-11000,"y":1.26},{"s":"F","x":-10500,"y":1.14},{"s":"F","x":-10000,"y":1.21},{"s":"F","x":-9500,"y":1.10},{"s":"F","x":-9000,"y":1.18},{"s":"F","x":-8500,"y":1.24},{"s":"F","x":-8000,"y":1.13},{"s":"F","x":-7500,"y":1.20},{"s":"F","x":-7000,"y":1.28},
{"s":"F","x":-6500,"y":1.36},{"s":"F","x":-6000,"y":1.17},{"s":"F","x":-5500,"y":1.24},{"s":"F","x":-5000,"y":1.15},{"s":"F","x":-4500,"y":1.22},{"s":"F","x":-4000,"y":1.30},{"s":"F","x":-3500,"y":1.19},
{"s":"F","x":-3000,"y":1.26},{"s":"F","x":-2750,"y":1.18},{"s":"F","x":-2500,"y":1.24},{"s":"F","x":-2250,"y":1.31},{"s":"F","x":-2000,"y":1.22},{"s":"F","x":-1750,"y":1.28},{"s":"F","x":-1500,"y":1.25},{"s":"F","x":-1250,"y":1.33},{"s":"F","x":-1000,"y":1.39},{"s":"F","x":-750,"y":1.52},
{"s":"F","x":-500,"y":1.78},{"s":"F","x":-250,"y":2.25},{"s":"F","x":0,"y":2.68},{"s":"F","x":250,"y":2.20},{"s":"F","x":500,"y":1.70},{"s":"F","x":750,"y":1.48},{"s":"F","x":1000,"y":1.42},{"s":"F","x":1250,"y":1.36},{"s":"F","x":1500,"y":1.39},{"s":"F","x":1750,"y":1.30},
{"s":"F","x":2000,"y":1.33},{"s":"F","x":2250,"y":1.25},{"s":"F","x":2500,"y":1.29},{"s":"F","x":2750,"y":1.21},{"s":"F","x":3000,"y":1.26},
{"s":"F","x":3500,"y":1.19},{"s":"F","x":4000,"y":1.33},{"s":"F","x":4500,"y":1.22},{"s":"F","x":5000,"y":1.15},{"s":"F","x":5500,"y":1.24},{"s":"F","x":6000,"y":1.17},{"s":"F","x":6500,"y":1.12},{"s":"F","x":7000,"y":1.20},{"s":"F","x":7500,"y":1.27},{"s":"F","x":8000,"y":1.14},
{"s":"F","x":8500,"y":1.21},{"s":"F","x":9000,"y":1.10},{"s":"F","x":9500,"y":1.18},{"s":"F","x":10000,"y":1.25},{"s":"F","x":10500,"y":1.13},{"s":"F","x":11000,"y":1.19},{"s":"F","x":11500,"y":1.08},{"s":"F","x":12000,"y":1.16},{"s":"F","x":12500,"y":1.23},{"s":"F","x":13000,"y":1.12},
{"s":"F","x":13500,"y":1.20},{"s":"F","x":14000,"y":1.27},{"s":"F","x":14500,"y":1.15},{"s":"F","x":15000,"y":1.22},{"s":"F","x":15500,"y":1.11},{"s":"F","x":16000,"y":1.18},{"s":"F","x":16500,"y":1.25},{"s":"F","x":17000,"y":1.14},{"s":"F","x":17500,"y":1.21},{"s":"F","x":18000,"y":1.09},
{"s":"F","x":18500,"y":1.17},{"s":"F","x":19000,"y":1.24},{"s":"F","x":19500,"y":1.13},{"s":"F","x":20000,"y":1.20},{"s":"F","x":20500,"y":1.27},{"s":"F","x":21000,"y":1.16},{"s":"F","x":21500,"y":1.22},{"s":"F","x":22000,"y":1.10},{"s":"F","x":22500,"y":1.18},{"s":"F","x":23000,"y":1.25},
{"s":"F","x":23500,"y":1.14},{"s":"F","x":24000,"y":1.20},{"s":"F","x":24500,"y":1.07},{"s":"F","x":25000,"y":1.16},{"s":"F","x":25500,"y":1.22},{"s":"F","x":26000,"y":1.12},{"s":"F","x":26500,"y":1.05}
],
"le":[
{"l":"A","x":-24150,"b":3.545,"bits":0.15},{"l":"T","x":-24150,"b":3.56,"bits":1.4},{"l":"T","x":-21200,"b":3.55,"bits":1.83},{"l":"T","x":-18260,"b":3.55,"bits":2.0},
{"l":"G","x":-15700,"b":3.55,"bits":0.47},{"l":"C","x":-15700,"b":3.655,"bits":0.53},{"l":"C","x":-12560,"b":3.545,"bits":0.2},{"l":"G","x":-12560,"b":3.59,"bits":1.6},
{"l":"C","x":-9420,"b":3.55,"bits":2.0},{"l":"G","x":-6480,"b":3.55,"bits":1.87},{"l":"C","x":-3930,"b":3.55,"bits":1.83}
],
"ln":[
{"l":"T","x":4320,"b":3.543,"bits":1.9},{"l":"A","x":7260,"b":3.543,"bits":2.13},{"l":"A","x":9815,"b":3.543,"bits":2.1},{"l":"T","x":12370,"b":3.543,"bits":1.37},
{"l":"T","x":14920,"b":3.543,"bits":1.27},{"l":"A","x":17470,"b":3.543,"bits":0.37},{"l":"G","x":17470,"b":3.62,"bits":0.4},{"l":"C","x":19830,"b":3.543,"bits":0.17},
{"l":"G","x":19830,"b":3.58,"bits":0.2},{"l":"C","x":22180,"b":3.543,"bits":0.17},{"l":"A","x":22180,"b":3.58,"bits":0.17},{"l":"T","x":24145,"b":3.543,"bits":0.27}
]
},
"resolve":{"scale":{"color":"independent"}},
"spacing":54,
"vconcat":[
{
"width":612,"height":503,
"layer":[
{"data":{"name":"a"},"mark":{"type":"line","strokeWidth":2.5,"strokeJoin":"round"},
 "encoding":{
  "x":{"field":"x","type":"quantitative","scale":{"domain":[-20000,20000],"nice":false},
   "axis":{"values":[-20000,0,20000],"labelExpr":"datum.value == 0 ? '0' : (datum.value < 0 ? '-20kb' : '20kb')","grid":false,"labelFontSize":19,"labelPadding":12,"labelFlush":true,"labelFlushOffset":9,"title":"Distance from the center of regions of interest (bp)","titleFontSize":22,"titlePadding":21}},
  "y":{"field":"y","type":"quantitative","scale":{"domain":[0.9,1.6],"nice":false,"zero":false},
   "axis":{"values":[0.9,1,1.1,1.2,1.3,1.4,1.5,1.6],"format":"~g","labelExpr":"datum.value < 0.95 ? '0' : datum.label","labelPadding":10,"title":"Relative coverage by extended p300 reads","titleFontSize":21,"titleX":-62,"titleY":280,"titleBaseline":"middle","titleAngle":-90}},
  "color":{"field":"s","type":"nominal","scale":{"domain":["h","e","b"],"range":["#4F81BD","#F79646","#000000"]},
   "legend":{"orient":"none","legendX":420,"legendY":8,"title":null,"labelFontSize":22,"symbolType":"stroke","symbolSize":784,"symbolStrokeWidth":2.5,"rowPadding":9,"labelOffset":2,"labelLimit":300,"labelExpr":"datum.value == 'h' ? 'HCTs' : (datum.value == 'e' ? 'random ECRs' : 'random blocks')"}}
 }},
{"data":{"values":[{}]},"mark":{"type":"rule","color":"black","strokeWidth":1.5},"encoding":{"x":{"datum":20000},"y":{"datum":0.9},"y2":{"datum":1.6}}},
{"data":{"values":[{}]},"mark":{"type":"rule","color":"white","strokeWidth":4},"encoding":{"x":{"datum":-20000},"y":{"datum":0.938},"y2":{"datum":0.949}}},
{"data":{"values":[{}]},"mark":{"type":"rule","color":"black","strokeWidth":1.5},"encoding":{"x":{"datum":-20130},"x2":{"datum":-19215},"y":{"datum":0.935},"y2":{"datum":0.952}}},
{"data":{"values":[{}]},"mark":{"type":"rule","color":"black","strokeWidth":1.5},"encoding":{"x":{"datum":-20130},"x2":{"datum":-19215},"y":{"datum":0.948},"y2":{"datum":0.965}}},
{"data":{"values":[{}]},"mark":{"type":"text","text":"A","font":"Liberation Sans","fontSize":31,"fontWeight":"bold","baseline":"middle"},"encoding":{"x":{"datum":-24180},"y":{"datum":1.589}}},
{"data":{"values":[{}]},"mark":{"type":"text","text":"56,081 HCT blocks","fontSize":26,"fontWeight":"bold","align":"left","baseline":"middle"},"encoding":{"x":{"datum":-19020},"y":{"datum":1.556}}},
{"data":{"values":[{}]},"mark":{"type":"text","text":"**","fontSize":28,"color":"#4F81BD","baseline":"middle"},"encoding":{"x":{"datum":980},"y":{"datum":1.54}}},
{"data":{"values":[{}]},"mark":{"type":"text","text":"**","fontSize":28,"color":"#F79646","baseline":"middle"},"encoding":{"x":{"datum":920},"y":{"datum":1.25}}}
]
},
{
"hconcat":[
{"width":45,"height":1,"data":{"values":[]},"mark":"point"},
{
"width":270,"height":506,
"layer":[
{"data":{"name":"e"},"mark":{"type":"line","strokeWidth":1.3},
 "encoding":{
  "x":{"field":"x","type":"quantitative","scale":{"domain":[-26500,26500],"nice":false},
   "axis":{"values":[-20000,0,20000],"labelExpr":"datum.value == 0 ? '0' : (datum.value < 0 ? '-20kb' : '20kb')","grid":false,"labelFontSize":22,"labelPadding":13,"title":"Distance from the center of HCTs (bp)","titleFontSize":22,"titleX":270,"titleY":62,"titleBaseline":"middle"}},
  "y":{"field":"y","type":"quantitative","scale":{"domain":[0.5,4],"nice":false,"zero":false},
   "axis":{"values":[0.5,1,1.5,2,2.5,3,3.5,4],"format":"~g","labelExpr":"datum.value < 0.75 ? '0' : datum.label","labelFontSize":21,"labelPadding":10,"title":"Relative coverage by extended p300 reads","titleFontSize":22,"titlePadding":17}},
  "color":{"field":"s","type":"nominal","scale":{"domain":["L","M","F"],"range":["#4F81BD","#9BBB59","#C0504D"]},
   "legend":{"orient":"none","legendX":128,"legendY":596,"direction":"horizontal","title":null,"labelFontSize":21,"symbolType":"stroke","symbolSize":625,"symbolStrokeWidth":1.8,"columnPadding":38,"labelOffset":3,"labelExpr":"datum.value == 'L' ? 'Limb' : (datum.value == 'M' ? 'Midbrain' : 'Forebrain')"}}
 }},
{"data":{"name":"le"},"mark":{"type":"point","filled":true,"opacity":1,"strokeWidth":0},
 "encoding":{
  "x":{"field":"x","type":"quantitative"},
  "y":{"field":"b","type":"quantitative"},
  "shape":{"field":"l","type":"nominal","legend":null,"scale":{"domain":["T","A","C","G"],"range":["M-0.25,-2H0.25V-1.72H0.07V0H-0.07V-1.72H-0.25Z","M-0.07,-2H0.07L0.25,0H0.12L0.08,-0.5H-0.08L-0.12,0H-0.25Z","M0.16,-1.77A0.25,1 0 1 0 0.16,-0.23L0.077,-0.45A0.12,0.72 0 1 1 0.077,-1.55Z","M0.16,-1.77A0.25,1 0 1 0 0.16,-0.23L0.077,-0.45A0.12,0.72 0 1 1 0.077,-1.55Z M0.03,-0.95V-0.8H0.14V-0.25H0.25V-0.95Z"]}},
  "fill":{"field":"l","type":"nominal","legend":null,"scale":{"domain":["T","A","C","G"],"range":["#C1272D","#5DBB46","#2020D0","#F5A623"]}},
  "size":{"field":"bits","type":"quantitative","legend":null,"scale":{"type":"pow","exponent":2,"domain":[0,2],"range":[0,3600]}}
 }},
{"data":{"values":[{}]},"mark":{"type":"rule","color":"black","strokeWidth":1.5},"encoding":{"x":{"datum":26500},"y":{"datum":0.5},"y2":{"datum":3.81}}},
{"data":{"values":[{}]},"mark":{"type":"rule","color":"white","strokeWidth":4},"encoding":{"x":{"datum":-26500},"y":{"datum":0.715},"y2":{"datum":0.79}}},
{"data":{"values":[{}]},"mark":{"type":"rule","color":"black","strokeWidth":1.5},"encoding":{"x":{"datum":-26890},"x2":{"datum":-24150},"y":{"datum":0.70},"y2":{"datum":0.79}}},
{"data":{"values":[{}]},"mark":{"type":"rule","color":"black","strokeWidth":1.5},"encoding":{"x":{"datum":-26890},"x2":{"datum":-24150},"y":{"datum":0.78},"y2":{"datum":0.87}}},
{"data":{"values":[{}]},"mark":{"type":"text","text":"B","font":"Liberation Sans","fontSize":31,"fontWeight":"bold","baseline":"middle"},"encoding":{"x":{"datum":-39850},"y":{"datum":3.958}}},
{"data":{"values":[{}]},"mark":{"type":"text","text":"E2F4","fontSize":21,"fontWeight":"bold","baseline":"middle"},"encoding":{"x":{"datum":12760},"y":{"datum":3.847}}},
{"data":{"values":[{}]},"mark":{"type":"text","text":"(683 HCTs)","fontSize":21,"fontWeight":"bold","baseline":"middle"},"encoding":{"x":{"datum":12950},"y":{"datum":3.619}}},
{"data":{"values":[{}]},"mark":{"type":"text","text":"**","fontSize":28,"color":"#4F81BD","baseline":"middle"},"encoding":{"x":{"datum":590},"y":{"datum":3.72}}},
{"data":{"values":[{}]},"mark":{"type":"text","text":"*","fontSize":28,"color":"#C0504D","baseline":"middle"},"encoding":{"x":{"datum":2750},"y":{"datum":2.14}}}
]
},
{
"width":270,"height":506,
"layer":[
{"data":{"name":"n"},"mark":{"type":"line","strokeWidth":1.3},
 "encoding":{
  "x":{"field":"x","type":"quantitative","scale":{"domain":[-26500,26500],"nice":false},
   "axis":{"values":[-20000,0,20000],"labelExpr":"datum.value == 0 ? '0' : (datum.value < 0 ? '-20kb' : '20kb')","grid":false,"labelFontSize":22,"labelPadding":13,"title":null}},
  "y":{"field":"y","type":"quantitative","scale":{"domain":[0.5,4],"nice":false,"zero":false},
   "axis":{"values":[0.5,1,1.5,2,2.5,3,3.5,4],"labels":false,"domain":false,"title":null}},
  "color":{"field":"s","type":"nominal","scale":{"domain":["L","M","F"],"range":["#4F81BD","#9BBB59","#C0504D"]},
   "legend":{"orient":"none","legendX":128,"legendY":596,"direction":"horizontal","title":null,"labelFontSize":21,"symbolType":"stroke","symbolSize":625,"symbolStrokeWidth":1.8,"columnPadding":38,"labelOffset":3,"labelExpr":"datum.value == 'L' ? 'Limb' : (datum.value == 'M' ? 'Midbrain' : 'Forebrain')"}}
 }},
{"data":{"name":"ln"},"mark":{"type":"point","filled":true,"opacity":1,"strokeWidth":0},
 "encoding":{
  "x":{"field":"x","type":"quantitative"},
  "y":{"field":"b","type":"quantitative"},
  "shape":{"field":"l","type":"nominal","legend":null,"scale":{"domain":["T","A","C","G"],"range":["M-0.25,-2H0.25V-1.72H0.07V0H-0.07V-1.72H-0.25Z","M-0.07,-2H0.07L0.25,0H0.12L0.08,-0.5H-0.08L-0.12,0H-0.25Z","M0.16,-1.77A0.25,1 0 1 0 0.16,-0.23L0.077,-0.45A0.12,0.72 0 1 1 0.077,-1.55Z","M0.16,-1.77A0.25,1 0 1 0 0.16,-0.23L0.077,-0.45A0.12,0.72 0 1 1 0.077,-1.55Z M0.03,-0.95V-0.8H0.14V-0.25H0.25V-0.95Z"]}},
  "fill":{"field":"l","type":"nominal","legend":null,"scale":{"domain":["T","A","C","G"],"range":["#C1272D","#5DBB46","#2020D0","#F5A623"]}},
  "size":{"field":"bits","type":"quantitative","legend":null,"scale":{"type":"pow","exponent":2,"domain":[0,2],"range":[0,3600]}}
 }},
{"data":{"values":[{}]},"mark":{"type":"rule","color":"black","strokeWidth":1.5},"encoding":{"x":{"datum":26500},"y":{"datum":0.5},"y2":{"datum":4}}},
{"data":{"values":[{}]},"mark":{"type":"text","text":"NOBOX","fontSize":21,"fontWeight":"bold","baseline":"middle"},"encoding":{"x":{"datum":-13150},"y":{"datum":3.847}}},
{"data":{"values":[{}]},"mark":{"type":"text","text":"(971 HCTs)","fontSize":21,"fontWeight":"bold","baseline":"middle"},"encoding":{"x":{"datum":-12950},"y":{"datum":3.619}}},
{"data":{"values":[{}]},"mark":{"type":"text","text":"**","fontSize":28,"color":"#C0504D","baseline":"middle"},"encoding":{"x":{"datum":200},"y":{"datum":2.75}}}
]
}
],
"spacing":0,
"bounds":"flush"
}
]
}
